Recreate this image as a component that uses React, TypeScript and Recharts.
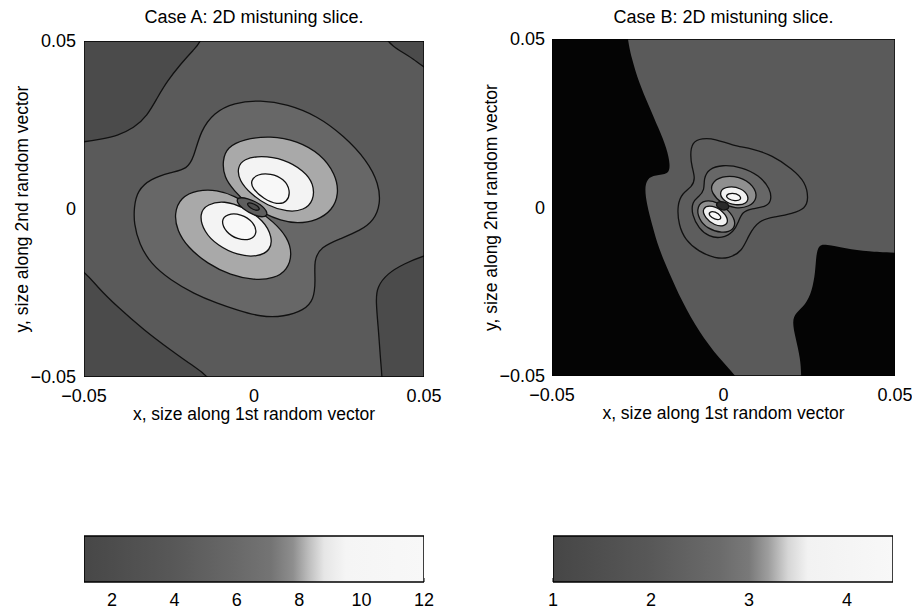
import { ScatterChart, Scatter, XAxis, YAxis } from "recharts";

const FONT = '"Liberation Sans", Arial, Helvetica, sans-serif';

// contour outlines, in units of 1e-3 (x, y)
const A_FRAME = [[-50, 50], [50, 50], [50, -50], [-50, -50]];
const A_CORNER_TL = [[-60, 60], [-60, 19.6], [-50, 19.8], [-45.1, 20.8], [-40.2, 21.8], [-35.3, 24.1], [-31.4, 27.7], [-28.4, 33.2], [-25.5, 38.1], [-21.6, 43.1], [-17.7, 47.5], [-15.2, 50], [-13, 60]];
const A_CORNER_TR = [[60, 60], [36, 60], [38.2, 50], [43.1, 47.0], [47.0, 44.6], [50, 42.1], [60, 36]];
const A_CORNER_BL = [[-60, -60], [-60, -12], [-50, -18.2], [-46.1, -23.2], [-40.2, -29.1], [-32.4, -36.0], [-24.5, -42.0], [-17.7, -46.9], [-12.8, -50], [-8, -60]];
const A_CORNER_BR = [[60, -60], [38, -60], [37.7, -50], [37.2, -44.9], [36.7, -37.0], [35.8, -27.1], [36.2, -23.2], [39.2, -19.2], [44.1, -16.3], [50, -13.8], [60, -11]];
const A_PEANUT = [[-35.3, 0.55], [-34.3, 5.5], [-30.4, 9.0], [-24.5, 10.9], [-19.6, 11.9], [-17.7, 15.4], [-15.7, 23.3], [-11.8, 28.7], [-5.9, 31.7], [1.9, 32.4], [9.8, 31.2], [18.6, 27.7], [26.4, 21.8], [33.3, 14.4], [36.7, 7.5], [37.2, 1.5], [35.3, -3.4], [31.3, -6.4], [25.5, -8.8], [19.6, -11.3], [17.6, -15.3], [18.1, -21.2], [17.6, -27.1], [14.7, -30.1], [8.8, -32.1], [1.9, -32.1], [-4.9, -30.1], [-10.8, -28.1], [-17.7, -25.2], [-24.5, -21.2], [-30.4, -16.3], [-33.8, -10.3], [-35.3, -4.4]];
const A_LIGHT_UP = [[-9.3, 14.4], [-7.9, 18.4], [-3.0, 20.8], [4.9, 21.8], [12.7, 20.3], [19.6, 16.4], [24.0, 10.4], [25.0, 4.5], [23.0, -0.4], [18.6, -3.4], [12.7, -4.4], [7.8, -3.4], [2.9, -1.4], [-2.0, 1.5], [-5.9, 5.5], [-8.8, 9.4]];
const A_WHITE_UP = [[-4.9, 12.4], [-3.0, 14.9], [1.9, 15.9], [8.8, 14.9], [14.7, 11.4], [17.6, 7.5], [17.6, 2.5], [14.7, -0.4], [9.8, -0.9], [3.9, 1.0], [-1.0, 4.5], [-4.4, 8.5]];
const A_RING_UP = [[-1.0, 8.5], [1.0, 10.4], [4.9, 10.6], [8.8, 9.0], [10.8, 5.5], [9.8, 2.0], [6.8, 1.3], [2.9, 3.0], [-0.5, 6.0]];
const A_LIGHT_LO = [[-23.5, -1.4], [-21.6, 3.5], [-16.7, 5.7], [-10.8, 5.7], [-5.9, 4.0], [0.0, 0.55], [5.9, -3.9], [9.8, -8.4], [11.3, -13.3], [9.8, -18.2], [5.9, -20.7], [0.0, -21.2], [-6.9, -19.7], [-13.7, -16.3], [-19.6, -11.3], [-22.6, -6.4]];
const A_WHITE_LO = [[-16.2, -1.4], [-13.7, 1.5], [-8.8, 2.5], [-3.0, 0.55], [2.9, -3.4], [5.4, -8.4], [4.9, -12.3], [1.0, -14.3], [-4.9, -13.8], [-10.8, -10.8], [-14.7, -6.9]];
const A_RING_LO = [[-9.8, -3.4], [-7.9, -1.4], [-3.9, -1.4], [0.0, -3.9], [1.0, -7.4], [-1.0, -9.3], [-4.9, -9.1], [-8.3, -6.9]];
const A_SPOT = [[-4.9, 3.5], [-2.0, 3.3], [2.0, 1.5], [4.4, -1.4], [2.9, -2.6], [0, -1.9], [-3.4, 0.1], [-5.1, 2.0]];
const A_SPOT_IN = [[-2.5, 2.0], [0, 1.7], [2.0, 0.1], [1.0, -0.6], [-1.0, 0.1]];

const B_GRAY = [[-30, 70], [80, 80], [80, 80], [80, 80], [80, -13.6], [50, -13.6], [42.3, -13.1], [35.5, -12.1], [29.7, -10.9], [27.8, -11.1], [27.0, -14.1], [26.8, -19.0], [25.8, -24.9], [23.9, -28.9], [21.0, -31.3], [20.0, -33.8], [21.0, -38.7], [22.4, -44.7], [22.7, -50], [22.8, -60], [10, -60], [3.9, -50], [-1.4, -44.7], [-7.2, -36.8], [-12.1, -27.9], [-16.0, -19.0], [-18.9, -12.1], [-20.8, -5.2], [-22.3, 0.7], [-23.0, 5.6], [-22.3, 8.6], [-19.9, 9.6], [-16.0, 9.8], [-15.5, 12.5], [-16.5, 17.5], [-18.9, 23.4], [-21.8, 30.3], [-24.7, 37.2], [-26.7, 44.1], [-28.1, 50]];
const B_C1 = [[-9.7, 15.5], [-9.2, 19.4], [-6.3, 20.6], [-2.4, 20.4], [2.5, 18.4], [8.3, 17.5], [14.2, 15.5], [20.0, 11.5], [23.9, 7.6], [24.8, 2.7], [23.9, -0.3], [20.0, -1.8], [15.1, -2.8], [10.3, -3.7], [7.3, -8.2], [5.4, -13.1], [1.5, -15.1], [-2.4, -15.1], [-7.2, -13.1], [-11.1, -9.7], [-13.1, -5.2], [-13.5, 0.7], [-12.1, 4.2], [-9.2, 6.1], [-8.2, 8.6], [-9.2, 12.0]];
const B_C2 = [[-5.8, 8.6], [-4.3, 11.5], [-0.4, 12.7], [5.4, 12.0], [10.3, 9.6], [13.7, 5.6], [14.0, 1.7], [12.2, 0.2], [8.3, -0.3], [5.4, -1.3], [4.4, -4.2], [3.0, -7.2], [-0.4, -9.2], [-4.3, -8.7], [-7.2, -6.2], [-9.2, -2.3], [-9.2, 1.7], [-7.2, 3.2], [-5.5, 5.1]];
const B_LIGHT_UP = [[-3.8, 7.0], [-0.6, 9.4], [4.6, 9.3], [8.9, 6.5], [10.0, 2.7], [7.6, 0.2], [3.5, -0.4], [-0.8, 1.3], [-3.4, 4.2]];
const B_LIGHT_LO = [[-7.8, 0.4], [-5.4, 2.3], [-1.7, 1.6], [1.5, -0.8], [3.6, -3.9], [3.0, -6.8], [-0.4, -7.7], [-4.7, -6.3], [-7.3, -3.4]];
const B_WHITE_UP = [[-1.5, 4.8], [1.3, 6.4], [5.2, 5.8], [7.5, 3.4], [6.8, 1.0], [3.5, 0.6], [0.0, 1.8]];
const B_RING_UP = [[0.5, 3.7], [2.5, 4.4], [4.9, 3.7], [5.2, 2.2], [3.3, 1.9], [1.3, 2.5]];
const B_WHITE_LO = [[-6.4, -0.1], [-3.3, 0.8], [0.0, -1.2], [1.6, -3.9], [0.4, -5.6], [-2.6, -5.4], [-5.4, -3.1]];
const B_RING_LO = [[-4.3, -1.3], [-2.4, -1.1], [-0.6, -2.6], [-0.9, -3.7], [-2.6, -3.5], [-4.1, -2.5]];
const B_SPOT = [[-2.5, 1.5], [0, 2], [2, 0.5], [1, -1], [-1.5, -0.5]];

const AXIS_TICKS = [-0.05, 0, 0.05];

// colour bars: value range, tick values, grey stops
const CBAR_A_RANGE = [1.1, 12];
const CBAR_A_TICKS = [2, 4, 6, 8, 10, 12];
const CBAR_A_STOPS: [number, string][] = [[1.1, "#474747"], [4, "#585858"], [6, "#696969"], [7.1, "#747474"], [7.8, "#8e8e8e"], [8.3, "#bdbdbd"], [8.8, "#e6e6e6"], [9.5, "#f5f5f5"], [12, "#f8f8f8"]];
const CBAR_B_RANGE = [1, 4.47];
const CBAR_B_TICKS = [1, 2, 3, 4];
const CBAR_B_STOPS: [number, string][] = [[1, "#464646"], [2, "#585858"], [2.7, "#6b6b6b"], [3.0, "#797979"], [3.2, "#9e9e9e"], [3.4, "#d6d6d6"], [3.6, "#f2f2f2"], [4.47, "#f8f8f8"]];

const LINE = "#111";
const toPts = (arr: number[][]) => arr.map(([x, y]) => ({ x: x / 1000, y: y / 1000 }));

type Layer = { pts: number[][]; fill: string; stroke?: string; curve?: "basisClosed" | "linearClosed" };

const LAYERS_A: Layer[] = [
  { pts: A_FRAME, fill: "#5a5a5a", curve: "linearClosed" },
  { pts: A_CORNER_TL, fill: "#4b4b4b", stroke: LINE },
  { pts: A_CORNER_TR, fill: "#4b4b4b", stroke: LINE },
  { pts: A_CORNER_BL, fill: "#4b4b4b", stroke: LINE },
  { pts: A_CORNER_BR, fill: "#4b4b4b", stroke: LINE },
  { pts: A_PEANUT, fill: "#676767", stroke: LINE },
  { pts: A_LIGHT_UP, fill: "#a9a9a9", stroke: LINE },
  { pts: A_LIGHT_LO, fill: "#a9a9a9", stroke: LINE },
  { pts: A_WHITE_UP, fill: "#f3f3f3", stroke: LINE },
  { pts: A_WHITE_LO, fill: "#f3f3f3", stroke: LINE },
  { pts: A_RING_UP, fill: "#f8f8f8", stroke: LINE },
  { pts: A_RING_LO, fill: "#f8f8f8", stroke: LINE },
  { pts: A_SPOT, fill: "#5e5e5e", stroke: LINE },
  { pts: A_SPOT_IN, fill: "#4e4e4e", stroke: LINE },
  { pts: A_FRAME, fill: "none", stroke: "#000", curve: "linearClosed" },
];

const LAYERS_B: Layer[] = [
  { pts: A_FRAME, fill: "#040404", curve: "linearClosed" },
  { pts: B_GRAY, fill: "#5a5a5a" },
  { pts: B_C1, fill: "#5d5d5d", stroke: LINE },
  { pts: B_C2, fill: "#676767", stroke: LINE },
  { pts: B_LIGHT_UP, fill: "#8f8f8f", stroke: LINE },
  { pts: B_LIGHT_LO, fill: "#8f8f8f", stroke: LINE },
  { pts: B_WHITE_UP, fill: "#f2f2f2", stroke: LINE },
  { pts: B_WHITE_LO, fill: "#f2f2f2", stroke: LINE },
  { pts: B_RING_UP, fill: "#f8f8f8", stroke: LINE },
  { pts: B_RING_LO, fill: "#f8f8f8", stroke: LINE },
  { pts: B_SPOT, fill: "#2a2a2a", stroke: LINE },
  { pts: A_FRAME, fill: "none", stroke: "#000", curve: "linearClosed" },
];

const NoDot = () => <g />;
const fmt = (v: number) => (v < 0 ? `\u2212${Math.abs(v)}` : String(v));

function ContourPanel({ title, layers, left, top, yWidth, right, bottom, yLabelOffset, tickGap }: any) {
  const w = 456;
  const h = 430;
  return (
    <div style={{ position: "absolute", left, top: 0, width: w, height: h }}>
      <div
        style={{
          position: "absolute",
          left: yWidth,
          width: w - yWidth - right,
          top: 7,
          lineHeight: "20px",
          fontSize: 18,
          textAlign: "center",
        }}
      >
        {title}
      </div>
      <ScatterChart width={w} height={h} margin={{ top, right, bottom, left: 0 }}>
        <XAxis
          type="number"
          dataKey="x"
          domain={[-0.05, 0.05]}
          ticks={AXIS_TICKS}
          allowDataOverflow
          axisLine={false}
          tickLine={false}
          tickSize={0}
          tickMargin={12}
          tickFormatter={fmt}
          tick={{ fill: "#000", fontSize: 18 }}
          height={45}
          label={{ value: "x, size along 1st random vector", position: "insideBottom", offset: 2, fill: "#000", fontSize: 17.5 }}
        />
        <YAxis
          type="number"
          dataKey="y"
          domain={[-0.05, 0.05]}
          ticks={AXIS_TICKS}
          allowDataOverflow
          axisLine={false}
          tickLine={false}
          tickSize={0}
          tickMargin={tickGap}
          tickFormatter={fmt}
          tick={{ fill: "#000", fontSize: 18 }}
          width={yWidth}
          label={{
            value: "y, size along 2nd random vector",
            angle: -90,
            position: "insideLeft",
            offset: yLabelOffset,
            fill: "#000",
            fontSize: 17.5,
            style: { textAnchor: "middle" },
          }}
        />
        {layers.map((l: Layer, i: number) => (
          <Scatter
            key={i}
            data={toPts(l.pts)}
            shape={NoDot}
            line={{ fill: l.fill, stroke: l.stroke ?? "none", strokeWidth: 1.3, strokeLinejoin: "round" }}
            lineType="joint"
            lineJointType={l.curve ?? "basisClosed"}
            isAnimationActive={false}
          />
        ))}
      </ScatterChart>
    </div>
  );
}

function ColorBar({ id, range, ticks, stops, left, marginLeft, marginRight }: any) {
  const [lo, hi] = range;
  const rect = [[lo, 0], [hi, 0], [hi, 1], [lo, 1]].map(([x, y]) => ({ x, y }));
  return (
    <div style={{ position: "absolute", left, top: 515 }}>
      <ScatterChart width={456} height={95} margin={{ top: 21, right: marginRight, bottom: 0, left: marginLeft }}>
        <defs>
          <linearGradient id={id} x1="0" y1="0" x2="1" y2="0">
            {stops.map(([v, c]: [number, string]) => (
              <stop key={v} offset={(v - lo) / (hi - lo)} stopColor={c} />
            ))}
          </linearGradient>
        </defs>
        <XAxis
          type="number"
          dataKey="x"
          domain={range}
          ticks={ticks}
          allowDataOverflow
          axisLine={false}
          tickSize={-4}
          tickMargin={15}
          tickLine={{ stroke: "#000" }}
          tick={{ fill: "#000", fontSize: 18 }}
          height={28}
        />
        <XAxis
          xAxisId="top"
          orientation="top"
          type="number"
          dataKey="x"
          domain={range}
          ticks={ticks}
          allowDataOverflow
          axisLine={false}
          tickSize={-4}
          tickLine={{ stroke: "#000" }}
          tickFormatter={() => ""}
          height={0}
        />
        <YAxis type="number" dataKey="y" domain={[0, 1]} hide />
        <Scatter
          data={rect}
          shape={NoDot}
          line={{ fill: `url(#${id})`, stroke: "#000", strokeWidth: 1.5 }}
          lineType="joint"
          lineJointType="linearClosed"
          isAnimationActive={false}
        />
      </ScatterChart>
    </div>
  );
}

export default function App() {
  return (
    <div
      style={{
        position: "absolute",
        left: 0,
        top: 0,
        width: 912,
        height: 610,
        background: "#fff",
        fontFamily: FONT,
        color: "#000",
      }}
    >
      <ContourPanel
        title="Case A: 2D mistuning slice."
        layers={LAYERS_A}
        left={0}
        top={41}
        yWidth={84}
        right={32}
        bottom={8}
        yLabelOffset={22}
        tickGap={8}
      />
      <ContourPanel
        title="Case B: 2D mistuning slice."
        layers={LAYERS_B}
        left={456}
        top={39}
        yWidth={96}
        right={17}
        bottom={9}
        yLabelOffset={35}
        tickGap={7}
      />
      <ColorBar id="cbarA" range={CBAR_A_RANGE} ticks={CBAR_A_TICKS} stops={CBAR_A_STOPS} left={0} marginLeft={84} marginRight={32} />
      <ColorBar id="cbarB" range={CBAR_B_RANGE} ticks={CBAR_B_TICKS} stops={CBAR_B_STOPS} left={456} marginLeft={97} marginRight={19} />
    </div>
  );
}
